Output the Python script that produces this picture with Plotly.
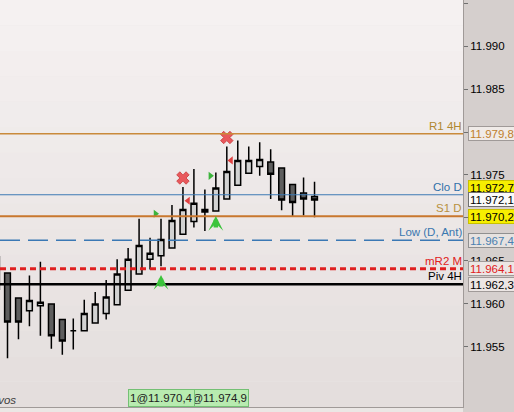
import plotly.graph_objects as go

# ---------------- data ----------------
bar_index = list(range(-1, 29))
open_ = [11.9655, 11.9636, 11.9607, 11.9592, 11.9598, 11.9600, 11.9582, 11.9569, 11.9569, 11.9578,
         11.9589, 11.9599, 11.9616, 11.9635, 11.9652, 11.9656, 11.9665, 11.9681, 11.9696, 11.9707,
         11.9708, 11.9722, 11.9738, 11.9752, 11.9760, 11.9765, 11.9758, 11.9739, 11.9729, 11.9725]
high_ = [11.9660, 11.9636, 11.9607, 11.9633, 11.9649, 11.9600, 11.9582, 11.9583, 11.9605, 11.9614,
         11.9628, 11.9652, 11.9665, 11.9699, 11.9677, 11.9699, 11.9715, 11.9736, 11.9757, 11.9733,
         11.9753, 11.9783, 11.9790, 11.9783, 11.9788, 11.9780, 11.9758, 11.9739, 11.9747, 11.9742]
low_ = [11.9612, 11.9537, 11.9559, 11.9574, 11.9563, 11.9548, 11.9541, 11.9547, 11.9569, 11.9578,
        11.9582, 11.9599, 11.9616, 11.9635, 11.9640, 11.9644, 11.9665, 11.9681, 11.9689, 11.9685,
        11.9708, 11.9722, 11.9738, 11.9752, 11.9749, 11.9722, 11.9709, 11.9702, 11.9703, 11.9701]
close_ = [11.9617, 11.9579, 11.9579, 11.9604, 11.9602, 11.9563, 11.9557, 11.9569, 11.9589, 11.9600,
          11.9608, 11.9635, 11.9652, 11.9668, 11.9659, 11.9675, 11.9697, 11.9710, 11.9717, 11.9710,
          11.9735, 11.9754, 11.9767, 11.9767, 11.9768, 11.9751, 11.9721, 11.9718, 11.9722, 11.9721]

level_names = ["R1 4H", "Clo D", "S1 D", "Low (D, Ant)", "mR2 M", "Piv 4H"]
level_values = [11.9798, 11.9727, 11.9702, 11.9674, 11.9641, 11.9623]
level_price_labels = ["11.979,8", "11.972,7", "11.970,2", "11.967,4", "11.964,1", "11.962,3"]

last_price = 11.9721
last_price_label = "11.972,1"

tick_values = [11.955, 11.960, 11.965, 11.970, 11.975, 11.980, 11.985, 11.990, 11.995]
tick_labels = ["11.955", "11.960", "11.965", "11.970", "11.975", "11.980", "11.985", "11.990", "11.995"]

sell_x = [16, 20]
sell_y = [11.97465, 11.97936]
red_tri_x = [16.46, 20.38]
red_tri_y = [11.9720, 11.9767]
green_tri_x = [13.5, 18.5]
green_tri_y = [11.9705, 11.9749]
buy_x = [14, 19]
buy_y = [11.96337, 11.97023]

trade_x = [19, 14]
trade_labels = ["1@11.974,9", "1@11.970,4"]

# ---------------- styles ----------------
level_line_colors = ["#c98a3a", "#3c7ab4", "#c9772e", "#3a78b4", "#e02020", "#000000"]
level_line_widths = [1.5, 1.2, 2, 1.5, 3, 2.5]
level_line_dash = ["solid", "solid", "solid", "20px,8px", "6px,4px", "solid"]
level_text_colors = ["#b08830", "#3070a8", "#b89040", "#3a78b0", "#e02020", "#000000"]
box_bg = ["#f0ebe8", "#f7ef00", "#f7ef00", "#e6e2e0", "#ece6e4", "#ece6e4"]
box_border = ["#a09a98", "#c8c000", "#c8c000", "#909090", "#a09a98", "#a09a98"]
box_font = ["#c0802c", "#000000", "#000000", "#4a80b0", "#e02020", "#000000"]
box_shift = [0, 7, 0, 0, 0, 0]

FONT = "Liberation Sans, Arial, sans-serif"

fig = go.Figure()

fig.add_trace(go.Candlestick(
    x=bar_index, open=open_, high=high_, low=low_, close=close_,
    increasing=dict(line=dict(color="#000000", width=1.5), fillcolor="#d2d2d2"),
    decreasing=dict(line=dict(color="#000000", width=1.5), fillcolor="#5e5e5e"),
    whiskerwidth=0, showlegend=False, hoverinfo="skip",
))

fig.add_trace(go.Scatter(x=sell_x, y=sell_y, mode="markers", showlegend=False, hoverinfo="skip",
                         marker=dict(symbol="x", size=11, color="#e8585c",
                                     line=dict(width=0.8, color="#c83838"))))
fig.add_trace(go.Scatter(x=red_tri_x, y=red_tri_y, mode="markers", showlegend=False, hoverinfo="skip",
                         marker=dict(symbol="triangle-left", size=7, color="#e04040",
                                     line=dict(width=0))))
fig.add_trace(go.Scatter(x=green_tri_x, y=green_tri_y, mode="markers", showlegend=False, hoverinfo="skip",
                         marker=dict(symbol="triangle-right", size=7, color="#3cb43c",
                                     line=dict(width=0))))

# background gradient bands
top_c = (245, 241, 241)
bot_c = (228, 222, 221)
n_bands = 16
shapes = []
for k in range(n_bands):
    t = k / (n_bands - 1)
    c = tuple(int(round(top_c[j] + (bot_c[j] - top_c[j]) * t)) for j in range(3))
    shapes.append(dict(type="rect", xref="paper", yref="paper", x0=0, x1=1,
                       y0=1 - (k + 1) / n_bands, y1=1 - k / n_bands,
                       fillcolor="rgb(%d,%d,%d)" % c, line=dict(width=0), layer="below"))
# bottom strip
shapes.append(dict(type="rect", xref="paper", yref="paper", x0=0, x1=1, y0=-0.02, y1=0,
                   fillcolor="#ebe7e5", line=dict(width=0), layer="below"))

for v, col, w, d in zip(level_values, level_line_colors, level_line_widths, level_line_dash):
    shapes.append(dict(type="line", xref="paper", yref="y", x0=0, x1=1, y0=v, y1=v,
                       line=dict(color=col, width=w, dash=d), layer="above"))

annotations = []
for name, v, col in zip(level_names, level_values, level_text_colors):
    annotations.append(dict(xref="paper", yref="y", x=1, y=v, text=name, showarrow=False,
                            xanchor="right", yanchor="bottom", yshift=1, borderpad=0,
                            font=dict(family=FONT, size=11.5, color=col)))

for v, lab, bg, bc, fc, sh in zip(level_values, level_price_labels, box_bg, box_border, box_font, box_shift):
    annotations.append(dict(xref="paper", yref="y", x=1.0105, y=v, text=lab, showarrow=False,
                            xanchor="left", yanchor="middle", yshift=sh, align="left",
                            bgcolor=bg, bordercolor=bc, borderwidth=1, borderpad=1,
                            height=11, width=50,
                            font=dict(family=FONT, size=11.5, color=fc)))
annotations.append(dict(xref="paper", yref="y", x=1.0105, y=last_price, text=last_price_label,
                        showarrow=False, xanchor="left", yanchor="middle", align="left",
                        bgcolor="#fafafa", bordercolor="#707070", borderwidth=1, borderpad=1,
                        height=11, width=50, font=dict(family=FONT, size=11.5, color="#000000")))

for bx, by in zip(buy_x, buy_y):
    annotations.append(dict(xref="x", yref="y", x=bx, y=by, ax=0, ay=13, axref="pixel", ayref="pixel",
                            text="", showarrow=True, arrowhead=3, arrowsize=0.55, arrowwidth=4.5,
                            arrowcolor="#3cc43c", standoff=0))

for tx, tl in zip(trade_x, trade_labels):
    annotations.append(dict(xref="x", yref="paper", x=tx, y=0, text=tl, showarrow=False,
                            xanchor="center", yanchor="bottom", yshift=0,
                            bgcolor="#b8ebb0", bordercolor="#74c074", borderwidth=1, borderpad=1,
                            height=14, font=dict(family=FONT, size=11.5, color="#202020")))

annotations.append(dict(xref="paper", yref="paper", x=18 / 463, y=0.018, text="<i>Activos</i>",
                        showarrow=False, xanchor="right", yanchor="middle",
                        font=dict(family=FONT, size=11.5, color="#404040")))

fig.update_layout(
    width=514, height=412, autosize=False,
    margin=dict(l=0, r=51, t=0, b=5, pad=0),
    paper_bgcolor="#d5cfcd", plot_bgcolor="#ede8e8",
    showlegend=False, shapes=shapes, annotations=annotations,
    boxgap=0.25,
    xaxis=dict(range=[-0.684, 41.54], showgrid=False, zeroline=False, showticklabels=False,
               ticks="", rangeslider=dict(visible=False), showline=True, linecolor="#a09a98",
               linewidth=1, fixedrange=True),
    yaxis=dict(range=[11.94802, 11.99535], side="right", showgrid=False, zeroline=False,
               tickvals=tick_values, ticktext=tick_labels, ticks="outside", ticklen=4,
               tickcolor="#707070", showline=True, linecolor="#a09a98", linewidth=1,
               tickfont=dict(family=FONT, size=11.5, color="#000000"), fixedrange=True),
)

fig.write_html("out.html", config={"displayModeBar": False},
               post_script="document.body.style.margin='0px';document.body.style.overflow='hidden';")
